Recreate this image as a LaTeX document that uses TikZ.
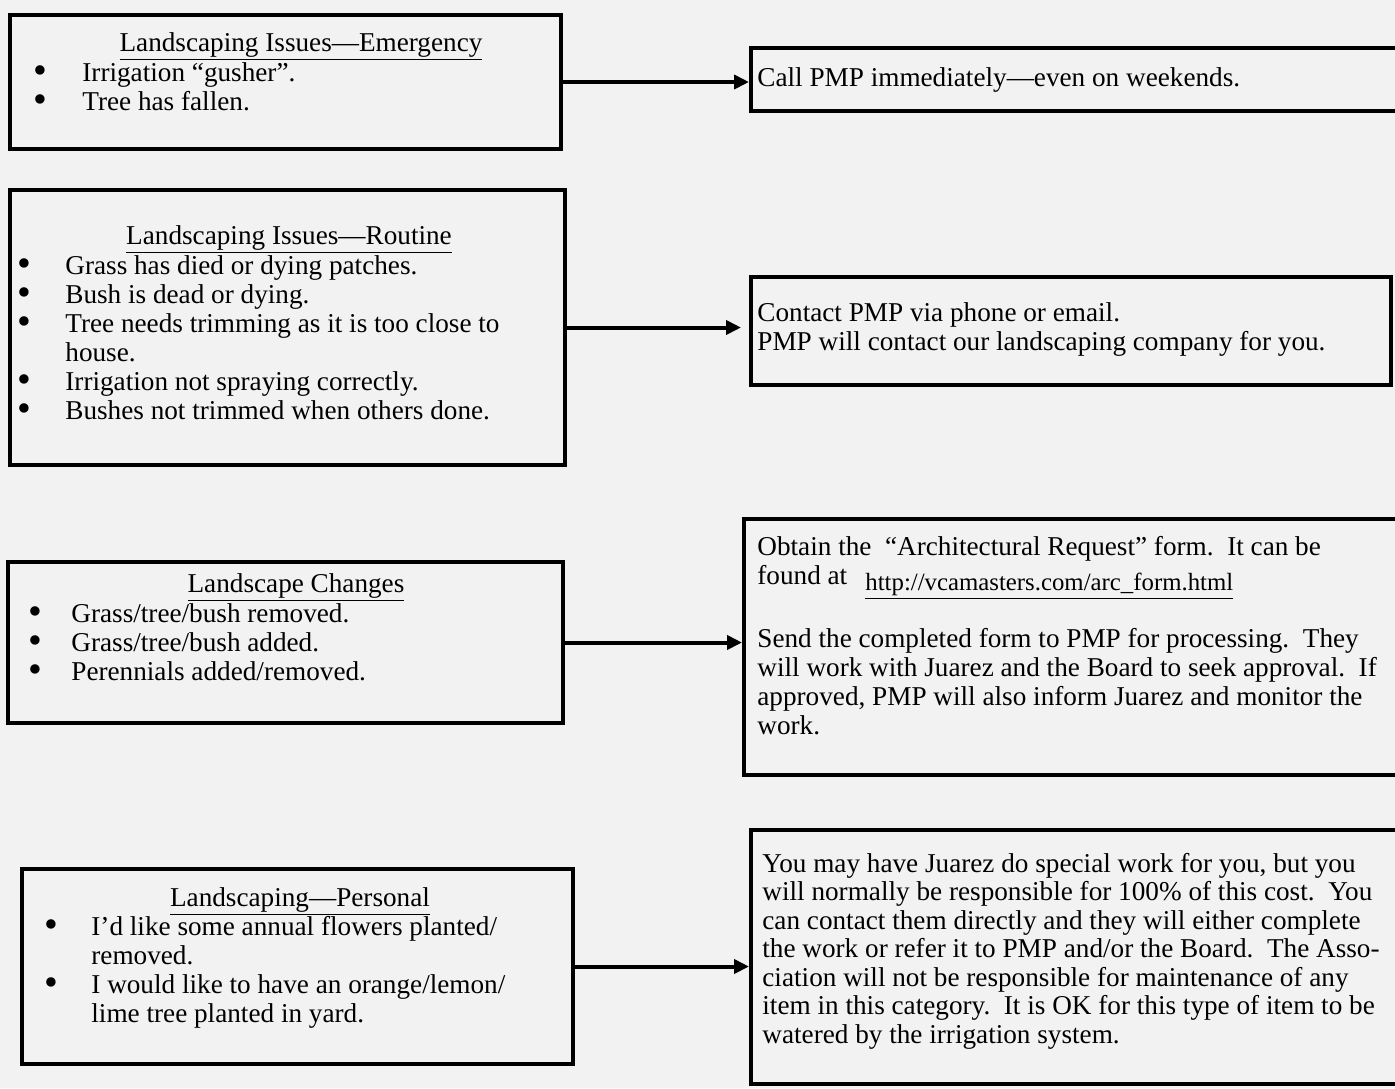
\documentclass[tikz,border=0pt]{standalone}
\usepackage{fontspec}
\setmainfont{Liberation Serif}
\usetikzlibrary{arrows.meta,positioning}
\definecolor{paper}{HTML}{F2F2F2}
\tikzset{
  blk/.style={draw,rectangle,line width=2pt,inner sep=0pt},
  txt/.style={font=\fontsize{13.6}{14.5}\selectfont,align=flush left,inner sep=0pt,anchor=base west,text width=#1},
  txt/.default=260pt,
  ttl/.style={font=\fontsize{13.6}{14.5}\selectfont,inner sep=0pt,anchor=base},
  arr/.style={-{Triangle[length=7.5pt,width=7pt]},line width=2pt}
}
\newcommand\bul[1][24pt]{\makebox[#1][l]{\raisebox{-1.2pt}{\scalebox{1.45}{\textbullet}}}}
\newcommand\cont[1][24pt]{\hspace*{#1}}

\begin{document}
\begin{tikzpicture}[x=0.5pt,y=-0.5pt]
  \useasboundingbox (0,0) rectangle (1395,1088);
  \clip (0,0) rectangle (1395,1088);
  \fill[paper] (0,0) rectangle (1395,1088);

  % Issue boxes (left column)
  \node[blk,minimum width=275.5pt,minimum height=67pt] (emerg) at (285.5,82) {};
  \node[blk,minimum width=277.5pt,minimum height=137.5pt] (routine) at (287.5,327.5) {};
  \node[blk,minimum width=277.5pt,minimum height=80.5pt] (changes) at (285.5,642.5) {};
  \node[blk,minimum width=275.5pt,minimum height=97.5pt] (personal) at (297.5,966.5) {};

  % Action boxes (right column)
  \node[blk,minimum width=338pt,minimum height=31.5pt] (call) at (1089,79.5) {};
  \node[blk,minimum width=320pt,minimum height=54pt] (contact) at (1071,331) {};
  \node[blk,minimum width=338pt,minimum height=128pt] (arch) at (1082,647) {};
  \node[blk,minimum width=338pt,minimum height=127pt] (special) at (1089,957) {};

  % Titles
  \node[ttl] (emergttl) at (301,51) {\underline{Landscaping Issues—Emergency}};
  \node[ttl] (routinettl) at (289,244) {\underline{Landscaping Issues—Routine}};
  \node[ttl] (changesttl) at (296,592) {\underline{Landscape Changes}};
  \node[ttl] (personalttl) at (300,906) {\underline{Landscaping—Personal}};

  % Bullet lists
  \node[txt] (emergtxt) at (33,81) {\bul[24.5pt]Irrigation “gusher”.\\
    \bul[24.5pt]Tree has fallen.};
  \node[txt] (routinetxt) at (17,274) {\bul Grass has died or dying patches.\\
    \bul Bush is dead or dying.\\
    \bul Tree needs trimming as it is too close to\\
    \cont house.\\
    \bul Irrigation not spraying correctly.\\
    \bul Bushes not trimmed when others done.};
  \node[txt] (changestxt) at (28,622) {\bul[21.5pt]Grass/tree/bush removed.\\
    \bul[21.5pt]Grass/tree/bush added.\\
    \bul[21.5pt]Perennials added/removed.};
  \node[txt] (personaltxt) at (44,935) {\bul[23.5pt]I’d like some annual flowers planted/\\
    \cont[23.5pt]removed.\\
    \bul[23.5pt]I would like to have an orange/lemon/\\
    \cont[23.5pt]lime tree planted in yard.};

  % Actions
  \node[txt=320pt] (calltxt) at (757,86) {Call PMP immediately—even on weekends.};
  \node[txt=320pt] (contacttxt) at (757,321) {Contact PMP via phone or email.\\
    PMP will contact our landscaping company for you.};
  \node[txt=320pt] (archtxt) at (757,555) {Obtain the\ \ “Architectural Request” form.\ \ It can be\\
    \makebox[54pt][l]{found at}\raisebox{-3pt}{\fontsize{12.4}{14.5}\selectfont\underline{http://vcamasters.com/arc\_form.html}}\\[13.5pt]
    Send the completed form to PMP for processing.\ \ They\\
    will work with Juarez and the Board to seek approval.\ \ If\\
    approved, PMP will also inform Juarez and monitor the\\
    work.};
  \node[txt=320pt,font=\fontsize{13.6}{14.25}\selectfont] (specialtxt) at (762,872) {You may have Juarez do special work for you, but you\\
    will normally be responsible for 100\% of this cost.\ \ You\\
    can contact them directly and they will either complete\\
    the work or refer it to PMP and/or the Board.\ \ The Asso-\\
    ciation will not be responsible for maintenance of any\\
    item in this category.\ \ It is OK for this type of item to be\\
    watered by the irrigation system.};

  \draw[arr] (emerg.east) -- (emerg.east -| call.west);
  \draw[arr,shorten >=4pt] (routine.east) -- (routine.east -| contact.west);
  \draw[arr] (changes.east) -- (changes.east -| arch.west);
  \draw[arr] (personal.east) -- (personal.east -| special.west);
\end{tikzpicture}
\end{document}
